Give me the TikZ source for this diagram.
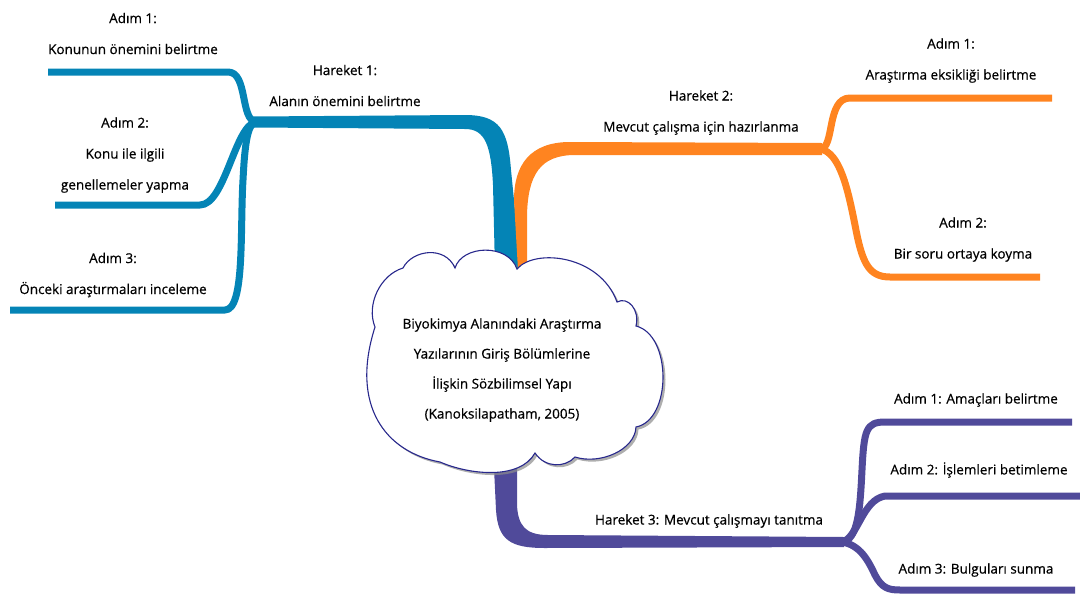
\documentclass[tikz,border=0pt]{standalone}
\usepackage{fontspec}
\setmainfont{Open Sans}[FakeBold=0.6, AutoFakeBold=0.6]
\usetikzlibrary{shadows}

\definecolor{hblue}{RGB}{4,132,182}
\definecolor{horange}{RGB}{255,132,32}
\definecolor{hpurple}{RGB}{80,74,154}
\definecolor{cloudline}{RGB}{40,40,140}

\tikzset{
  lbl/.style={align=center, inner sep=0pt, font=\fontsize{13.5}{31}\selectfont\bfseries, text=black},
  twig/.style={line width=7pt, line cap=butt, line join=round},
  cloudshape/.style={fill=white, draw=cloudline, line width=1.1pt,
    drop shadow={shadow xshift=2.5pt, shadow yshift=-2.5pt, fill=black!45, opacity=0.7}},
}

\begin{document}
\begin{tikzpicture}[x=1pt, y=-1pt]
\useasboundingbox (0,0) rectangle (1080,595);

% junction points of the three moves
\coordinate (j1) at (256,122);
\coordinate (j2) at (820,149);
\coordinate (j3) at (842,542);

% free ends of the step lines
\coordinate (e11) at (48,72);
\coordinate (e12) at (55,205);
\coordinate (e13) at (10,310);
\coordinate (e21) at (1052,98);
\coordinate (e22) at (1040,277);
\coordinate (e31) at (1072,422);
\coordinate (e32) at (1080,496);
\coordinate (e33) at (1075,590);

% ---- move 1 (blue) ----
\fill[hblue] (253,116.5) -- (465,115) .. controls (500,115) and (508,130) .. (511,170)
  -- (521,270) -- (495,270) -- (493,185) .. controls (491,145) and (485,129) .. (465,129)
  -- (253,127.5) -- cycle;
\draw[twig, hblue] (e11) -- (228,72) .. controls (248,72) and (240,120) .. (j1);
\draw[twig, hblue] (e12) -- (200,205) .. controls (225,205) and (235,125) .. (j1);
\draw[twig, hblue] (e13) -- (225,310) .. controls (245,310) and (240,230) .. (243,180)
  .. controls (245,140) and (248,124) .. (j1);

% ---- move 2 (orange) ----
\fill[horange] (822,143) -- (570,142) .. controls (530,142) and (514,165) .. (514,200)
  -- (518,270) -- (527,270) -- (527,215) .. controls (528,175) and (540,155) .. (575,155)
  -- (822,155) -- cycle;
\draw[twig, horange] (j2) .. controls (835,149) and (826,98) .. (850,98) -- (e21);
\draw[twig, horange] (j2) .. controls (840,152) and (848,190) .. (855,225)
  .. controls (862,262) and (868,277) .. (890,277) -- (e22);

% ---- move 3 (purple) ----
\fill[hpurple] (494,468) -- (496,510) .. controls (498,540) and (510,548) .. (545,548)
  -- (844,547) -- (844,537) -- (548,535) .. controls (525,535) and (518,525) .. (517,505)
  -- (517,468) -- cycle;
\draw[twig, hpurple] (j3) .. controls (858,540) and (860,510) .. (862,470)
  .. controls (864,430) and (866,422) .. (885,422) -- (e31);
\draw[twig, hpurple] (j3) .. controls (858,538) and (862,500) .. (885,496) -- (e32);
\draw[twig, hpurple] (j3) .. controls (860,545) and (868,560) .. (875,575)
  .. controls (882,588) and (888,590) .. (900,590) -- (e33);

% ---- central cloud ----
\path[cloudshape] (375,327) .. controls (366,305) and (380,275) .. (403,268)
  .. controls (412,250) and (445,245) .. (455,268)
  .. controls (462,245) and (508,243) .. (517,269)
  .. controls (535,248) and (600,255) .. (617,302)
  .. controls (628,296) and (640,310) .. (636,326)
  .. controls (672,335) and (672,420) .. (636,427)
  .. controls (635,450) and (600,465) .. (575,457)
  .. controls (565,468) and (545,468) .. (535,453)
  .. controls (520,480) and (470,475) .. (440,462)
  .. controls (385,452) and (350,405) .. (375,327) -- cycle;

\node[lbl, font=\fontsize{13.5}{30}\selectfont\bfseries] (core) at (502,370)
  {Biyokimya Alanındaki Araştırma\\Yazılarının Giriş Bölümlerine\\İlişkin Sözbilimsel Yapı\\(Kanoksilapatham, 2005)};

% ---- labels ----
\node[lbl] (h1)  at (345,85.5) {Hareket 1:\\Alanın önemini belirtme};
\node[lbl] (a11) at (133,33.5) {Adım 1:\\Konunun önemini belirtme};
\node[lbl] (a12) at (125,155)  {Adım 2:\\Konu ile ilgili\\genellemeler yapma};
\node[lbl] (a13) at (113,275)  {Adım 3:\\Önceki araştırmaları inceleme};

\node[lbl] (h2)  at (701,112.5) {Hareket 2:\\Mevcut çalışma için hazırlanma};
\node[lbl] (a21) at (951,60.5)  {Adım 1:\\Araştırma eksikliği belirtme};
\node[lbl] (a22) at (963,239.5) {Adım 2:\\Bir soru ortaya koyma};

\node[lbl] (h3)  at (709,521) {Hareket 3: Mevcut çalışmayı tanıtma};
\node[lbl] (a31) at (976,400) {Adım 1: Amaçları belirtme};
\node[lbl] (a32) at (979,470) {Adım 2: İşlemleri betimleme};
\node[lbl] (a33) at (976,570) {Adım 3: Bulguları sunma};
\end{tikzpicture}
\end{document}
